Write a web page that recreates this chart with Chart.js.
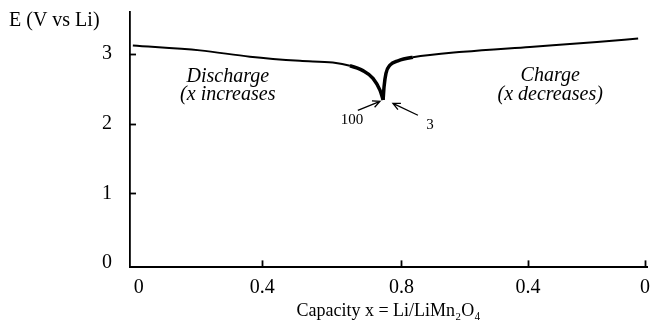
<!DOCTYPE html>
<html>
<head>
<meta charset="utf-8">
<script src="https://cdn.jsdelivr.net/npm/chart.js@4/dist/chart.umd.min.js"></script>
<style>
  html, body { margin: 0; padding: 0; background: #fff; }
  #wrap { width: 650px; height: 326px; }
</style>
</head>
<body>
<div id="wrap"><canvas id="grafica"></canvas></div>
<script>
// posiciones a lo largo del eje (descarga 0 -> 0.8, luego carga 0.8 -> 0)
const xTickPos = [0, 0.39, 0.83, 1.23, 1.6];
const xTickLabels = ['0', '0.4', '0.8', '0.4', '0'];
const yTicks = [0, 1, 2, 3];

// curva de descarga
const dischargePos = [-0.019, 0.193, 0.351, 0.509, 0.613, 0.667, 0.708, 0.740, 0.762, 0.772];
const dischargeE   = [3.12, 3.05, 2.96, 2.90, 2.875, 2.83, 2.76, 2.65, 2.48, 2.34];

// curva de carga
const chargePos = [0.772, 0.775, 0.781, 0.794, 0.819, 0.866, 1.025, 1.236, 1.448, 1.578];
const chargeE   = [2.34, 2.53, 2.72, 2.84, 2.90, 2.95, 3.03, 3.10, 3.17, 3.22];

// textos y flechas (en unidades de datos)
const notes = [
  { text: 'Discharge', x: 0.281, y: 2.67, italic: true },
  { text: '(x increases', x: 0.281, y: 2.41, italic: true },
  { text: 'Charge', x: 1.30, y: 2.68, italic: true },
  { text: '(x decreases)', x: 1.30, y: 2.41, italic: true },
  { text: '100', x: 0.674, y: 2.05, italic: false },
  { text: '3', x: 0.920, y: 1.98, italic: false }
];
const arrows = [
  { from: [0.692, 2.19], to: [0.762, 2.32] },
  { from: [0.882, 2.12], to: [0.803, 2.29] }
];

const serif = "'Liberation Serif', 'DejaVu Serif', serif";

const toPoints = (xs, ys) => xs.map((x, i) => ({ x: x, y: ys[i] }));
const thick = ctx => {
  const x = ctx.p0.parsed.x;
  return (x > 0.66 && x < 0.83) ? 3.5 : 2;
};

const extras = {
  id: 'extras',
  afterDraw(chart) {
    const c = chart.ctx;
    const xs = chart.scales.x, ys = chart.scales.y;
    const area = chart.chartArea;
    c.save();
    c.strokeStyle = '#000';
    c.fillStyle = '#000';
    c.lineWidth = 1.8;
    // marcas internas de los ejes
    xs.ticks.forEach((t, i) => {
      if (i === 0) return;
      const px = Math.round(xs.getPixelForValue(t.value)) + 0.5;
      c.beginPath();
      c.moveTo(px, area.bottom);
      c.lineTo(px, area.bottom - 7);
      c.stroke();
    });
    ys.ticks.forEach((t, i) => {
      if (i === 0) return;
      const py = Math.round(ys.getPixelForValue(t.value)) + 0.5;
      c.beginPath();
      c.moveTo(area.left, py);
      c.lineTo(area.left + 6, py);
      c.stroke();
    });
    // titulo del eje y
    c.font = '20px ' + serif;
    c.textAlign = 'left';
    c.textBaseline = 'middle';
    c.fillText('E (V vs Li)', 9, 21);
    // anotaciones
    c.textAlign = 'center';
    notes.forEach(n => {
      c.font = (n.italic ? 'italic 20px ' : '15px ') + serif;
      c.fillText(n.text, xs.getPixelForValue(n.x), ys.getPixelForValue(n.y));
    });
    // flechas
    c.lineWidth = 1.3;
    arrows.forEach(a => {
      const x0 = xs.getPixelForValue(a.from[0]), y0 = ys.getPixelForValue(a.from[1]);
      const x1 = xs.getPixelForValue(a.to[0]), y1 = ys.getPixelForValue(a.to[1]);
      const ang = Math.atan2(y1 - y0, x1 - x0);
      c.beginPath();
      c.moveTo(x0, y0);
      c.lineTo(x1, y1);
      c.moveTo(x1 - 8 * Math.cos(ang - 0.45), y1 - 8 * Math.sin(ang - 0.45));
      c.lineTo(x1, y1);
      c.lineTo(x1 - 8 * Math.cos(ang + 0.45), y1 - 8 * Math.sin(ang + 0.45));
      c.stroke();
    });
    c.restore();
  }
};

new Chart(document.getElementById('grafica'), {
  type: 'line',
  data: {
    datasets: [
      {
        label: 'Discharge',
        data: toPoints(dischargePos, dischargeE),
        borderColor: '#000',
        borderWidth: 2,
        pointRadius: 0,
        cubicInterpolationMode: 'monotone',
        segment: { borderWidth: thick }
      },
      {
        label: 'Charge',
        data: toPoints(chargePos, chargeE),
        borderColor: '#000',
        borderWidth: 2,
        pointRadius: 0,
        cubicInterpolationMode: 'monotone',
        segment: { borderWidth: thick }
      }
    ]
  },
  options: {
    responsive: true,
    maintainAspectRatio: false,
    animation: false,
    layout: { padding: { left: 84, top: 12, right: 3, bottom: 0 } },
    plugins: { legend: { display: false }, tooltip: { enabled: false } },
    scales: {
      x: {
        type: 'linear',
        min: -0.028,
        max: 1.606,
        afterBuildTicks: axis => { axis.ticks = xTickPos.map(v => ({ value: v })); },
        afterFit: axis => { axis.paddingLeft = 0; axis.paddingRight = 0; },
        ticks: {
          autoSkip: false,
          maxRotation: 0,
          padding: 8,
          color: '#000',
          font: { family: serif, size: 20 },
          callback: (v, i) => xTickLabels[i]
        },
        grid: { display: false, drawTicks: false },
        border: { display: true, color: '#000', width: 2 },
        title: {
          display: true,
          text: 'Capacity x = Li/LiMn₂O₄',
          color: '#000',
          font: { family: serif, size: 18 },
          padding: { top: -7, bottom: 4 }
        }
      },
      y: {
        type: 'linear',
        min: -0.06,
        max: 3.6,
        afterBuildTicks: axis => { axis.ticks = yTicks.map(v => ({ value: v })); },
        afterFit: axis => { axis.paddingTop = 0; axis.paddingBottom = 0; },
        ticks: {
          padding: 18,
          color: '#000',
          font: { family: serif, size: 20 }
        },
        grid: { display: false, drawTicks: false },
        border: { display: true, color: '#000', width: 1.8 }
      }
    }
  },
  plugins: [extras]
});
</script>
</body>
</html>
